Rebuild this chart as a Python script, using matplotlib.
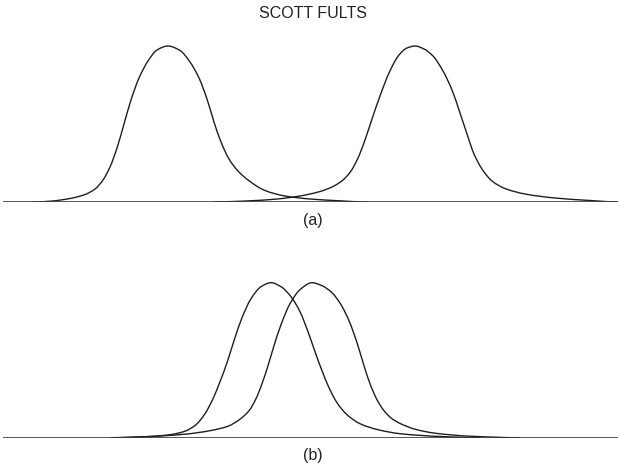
#
# Two pairs of peaked curves over a common baseline:
# (a) well separated, (b) strongly overlapping
#

import matplotlib
matplotlib.use("Agg")
import matplotlib.pyplot as plt
from matplotlib.path import Path
from matplotlib.patches import PathPatch
import numpy as np

TITLE = "SCOTT FULTS"
LABELS = ["(a)", "(b)"]

# values: position along the line, height above it
a_left_x = [33, 50, 70, 85, 95, 103, 110, 117, 124, 131, 139, 148, 157, 168,
            180, 190, 199, 207, 214, 221, 229, 238, 250, 265, 285, 310, 340, 367]
a_left_y = [0, 0.8, 3.5, 7.5, 13, 22, 35, 54, 78, 102, 124, 141, 152, 156,
            151.5, 140, 124, 103, 80, 60, 43, 31, 20.5, 11.5, 6, 3, 1.2, 0]

a_right_x = [213, 250, 275, 300, 320, 333, 343, 351, 358, 365, 372, 380, 389, 399, 407, 415,
             424, 433, 443, 452, 460, 467, 474, 482, 492, 505, 525, 555, 590, 618]
a_right_y = [0, 1.2, 2.8, 6, 10.5, 15.5, 22, 31, 44, 62, 83, 106, 129, 147, 154, 156,
             153, 146, 131, 112, 89, 68, 48, 33, 21, 13.5, 8, 4, 1.5, 0]

b_left_x = [110, 150, 170, 185, 196, 205, 213, 220, 227, 234, 242, 251, 261, 271,
            281, 291, 300, 308, 315, 322, 329, 337, 347, 360, 378, 400, 440, 480]
b_left_y = [0, 1.2, 3, 6.5, 13, 24, 39, 56, 75, 97, 120, 139, 151, 155,
            151, 141, 126, 106, 86, 67, 50, 35, 23, 14, 8, 4, 1.2, 0]

b_right_x = [110, 150, 185, 210, 228, 240, 249, 256, 262, 268, 274, 281, 290, 300, 312,
             322, 332, 341, 349, 357, 364, 370, 377, 384, 392, 400, 415, 435, 470, 520]
b_right_y = [0, 1.2, 3.5, 7, 11.5, 18.5, 27, 39, 54, 72, 92, 113, 134, 148, 155,
             152, 145, 133, 117, 95, 72, 54, 38, 27, 19, 14.3, 8.5, 4.5, 1.5, 0]

LINE_START, LINE_END = 3, 618
CURVE_COLOR = "#1e1e1e"


def smooth_path(xs, ys):
    # monotone cubic through the read points, drawn as bezier segments
    x = np.asarray(xs, float)
    y = np.asarray(ys, float)
    h = np.diff(x)
    d = np.diff(y) / h
    m = np.zeros_like(x)
    for i in range(1, len(x) - 1):
        if d[i - 1] * d[i] > 0:
            w1 = 2 * h[i] + h[i - 1]
            w2 = h[i] + 2 * h[i - 1]
            m[i] = (w1 + w2) / (w1 / d[i - 1] + w2 / d[i])
    verts = [(x[0], y[0])]
    codes = [Path.MOVETO]
    for i in range(len(x) - 1):
        verts += [(x[i] + h[i] / 3, y[i] + m[i] * h[i] / 3),
                  (x[i + 1] - h[i] / 3, y[i + 1] - m[i + 1] * h[i] / 3),
                  (x[i + 1], y[i + 1])]
        codes += [Path.CURVE4] * 3
    return Path(verts, codes)


def draw_panel(ax, curves, label):
    ax.hlines(0, LINE_START, LINE_END, color="#3a3a3a", lw=1.2)
    for xs, ys in curves:
        ax.add_patch(PathPatch(smooth_path(xs, ys), fill=False,
                               edgecolor=CURVE_COLOR, lw=1.0))
    ax.set_xlim(0, 618)
    ax.set_ylim(0, 160)
    ax.axis("off")
    ax.text(313, -18, label, ha="center", va="center", fontsize=11.5,
            color="#222222")


if __name__ == "__main__":
    plt.rcParams["font.family"] = ["Liberation Sans", "DejaVu Sans"]
    fig = plt.figure(figsize=(6.18, 4.66), dpi=100)

    ax_a = fig.add_axes([0, 264 / 466, 1, 160 / 466])
    ax_b = fig.add_axes([0, 28.3 / 466, 1, 160 / 466])

    draw_panel(ax_a, [(a_left_x, a_left_y), (a_right_x, a_right_y)], LABELS[0])
    draw_panel(ax_b, [(b_left_x, b_left_y), (b_right_x, b_right_y)], LABELS[1])

    fig.text(313 / 618, 1 - 13 / 466, TITLE, ha="center", va="center",
             fontsize=11.5, color="#222222")

    fig.savefig("out.png", dpi=100)
